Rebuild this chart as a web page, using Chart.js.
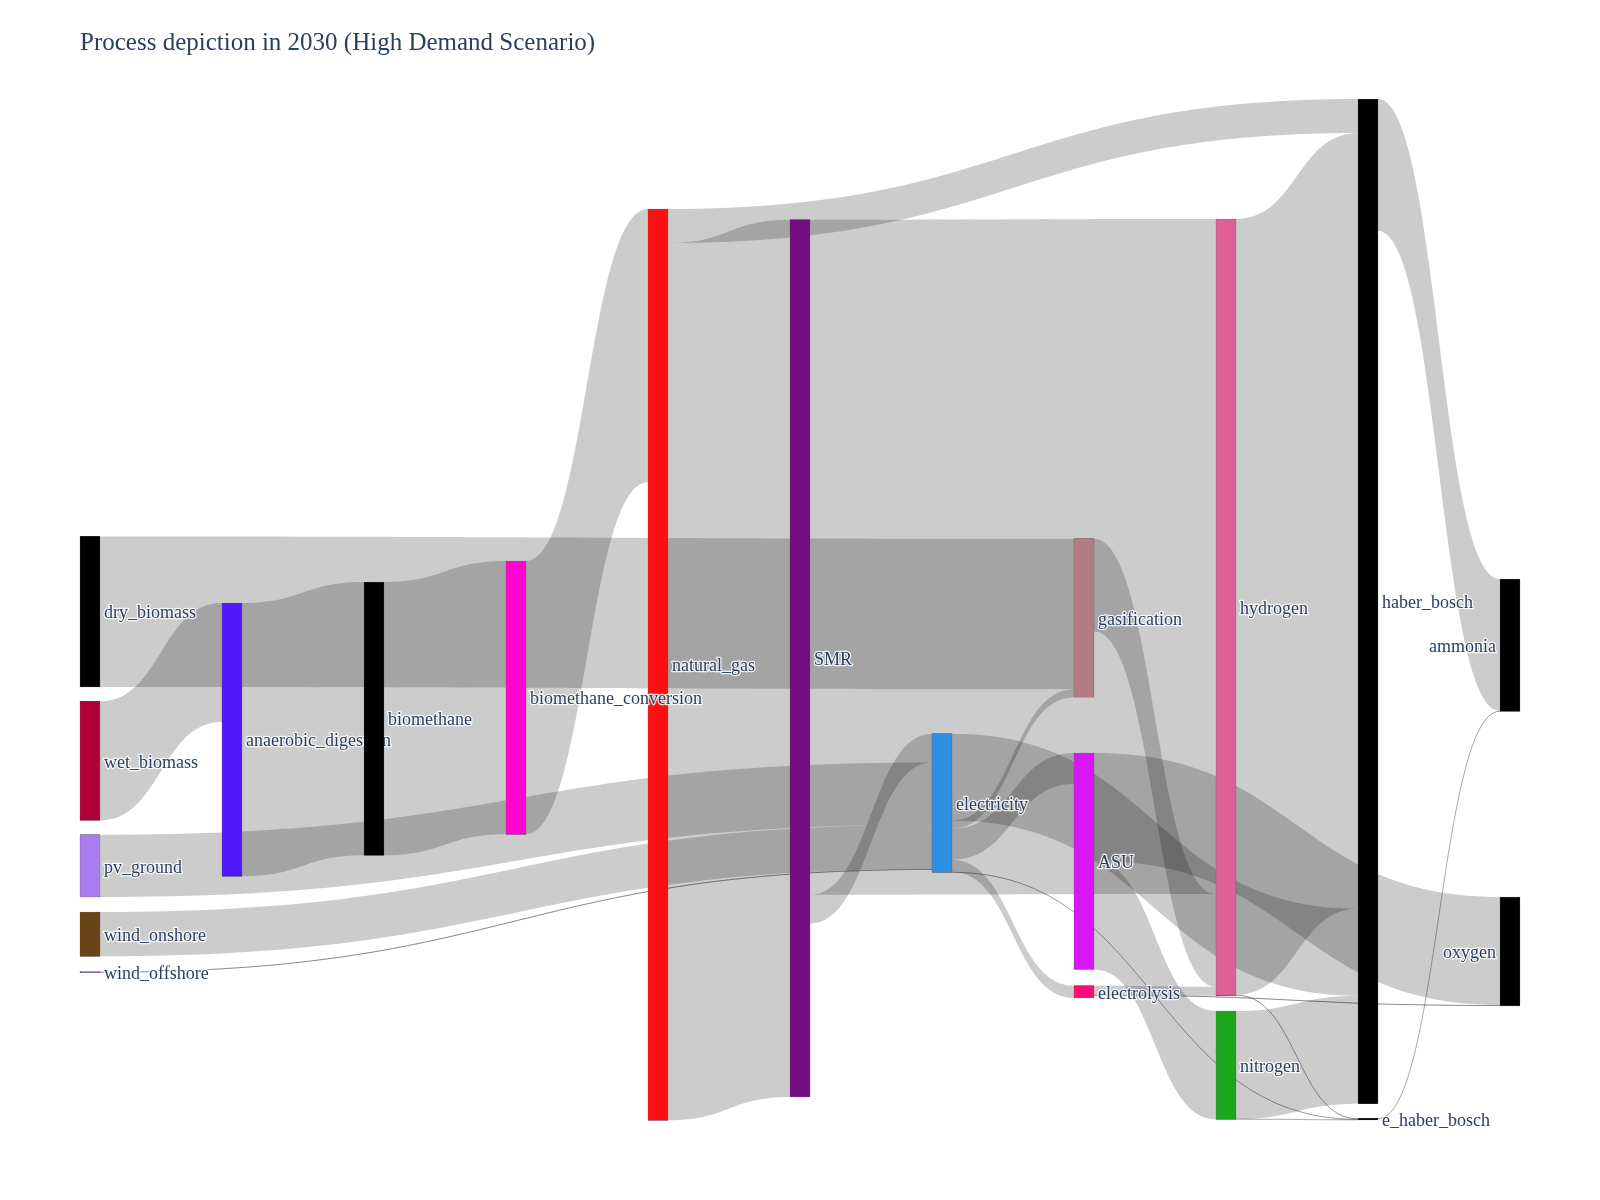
<!DOCTYPE html>
<html>
<head>
<meta charset="utf-8">
<script src="https://cdn.jsdelivr.net/npm/chart.js@4.4.1/dist/chart.umd.min.js"></script>
<style>
html,body{margin:0;padding:0;background:#ffffff;}
#wrap{width:1600px;height:1200px;}
</style>
</head>
<body>
<div id="wrap"><canvas id="chart" width="1600" height="1200"></canvas></div>
<script>
// ---------------- DATA ----------------
const titleText = 'Process depiction in 2030 (High Demand Scenario)';

const nodeLabels = [
  'dry_biomass', 'wet_biomass', 'pv_ground', 'wind_onshore', 'wind_offshore',
  'anaerobic_digestion', 'biomethane', 'natural_gas', 'biomethane_conversion', 'SMR',
  'electricity', 'gasification', 'ASU', 'electrolysis', 'hydrogen',
  'nitrogen', 'haber_bosch', 'e_haber_bosch', 'ammonia', 'oxygen'
];

const nodeColors = [
  '#000000', '#b00038', '#a77cf0', '#6a4416', '#8e2f6e',
  '#5119fa', '#000000', '#ff1010', '#ff05cf', '#730d81',
  '#2e8fe3', '#b27d85', '#d916f8', '#ff0a78', '#df5f99',
  '#1ea51e', '#000000', '#000000', '#000000', '#000000'
];

// vertical placement of each node (top edge, in flow units), like plotly's node.y
const nodeTops = [
  437.4, 602.4, 735.7, 813.0, 872.7,
  504.0, 483.0, 110.0, 462.0, 120.7,
  634.7, 439.7, 654.0, 886.7, 120.0,
  912.0, 0.0, 1019.4, 480.0, 798.0
];

const linkSources = [
  'dry_biomass', 'wet_biomass', 'anaerobic_digestion', 'biomethane', 'biomethane_conversion',
  'natural_gas', 'natural_gas', 'SMR', 'SMR', 'pv_ground',
  'wind_onshore', 'wind_offshore', 'electricity', 'electricity', 'electricity',
  'electricity', 'electricity', 'gasification', 'ASU', 'ASU',
  'electrolysis', 'electrolysis', 'hydrogen', 'hydrogen', 'nitrogen',
  'nitrogen', 'haber_bosch', 'e_haber_bosch'
];
const linkTargets = [
  'gasification', 'anaerobic_digestion', 'biomethane', 'biomethane_conversion', 'natural_gas',
  'haber_bosch', 'SMR', 'hydrogen', 'electricity', 'electricity',
  'electricity', 'electricity', 'haber_bosch', 'gasification', 'ASU',
  'electrolysis', 'e_haber_bosch', 'hydrogen', 'oxygen', 'nitrogen',
  'hydrogen', 'oxygen', 'haber_bosch', 'e_haber_bosch', 'haber_bosch',
  'e_haber_bosch', 'ammonia', 'ammonia'
];
const linkValues = [
  150.5, 119.0, 273.3, 273.3, 273.3,
  34.0, 877.3, 675.0, 28.7, 62.3,
  44.3, 1.0, 87.0, 8.0, 31.0,
  12.3, 0.5, 92.7, 108.0, 108.5,
  9.0, 1.0, 775.7, 0.8, 108.0,
  0.3, 132.0, 0.5
];

// ---------------- STYLE / LAYOUT CONSTANTS ----------------
const W = 1600, H = 1200;
const PAD = {left: 80, right: 100, top: 18, bottom: 80};
const NODE_W = 20;
const LABEL_OFFSET = 4;
const LABEL_DY = 2;
const TEXT_COLOR = '#2a3f5f';
const LINK_COLOR = 'rgba(0,0,0,0.2)';
const FONT_FAMILY = '"Liberation Serif", "Times New Roman", serif';
const LABEL_FONT = '18px ' + FONT_FAMILY;
const Y_MAX = 1021;

// ---------------- SANKEY STRUCTURE ----------------
const idx = {};
nodeLabels.forEach((n, i) => idx[n] = i);
const links = linkSources.map((s, i) => ({s: idx[s], t: idx[linkTargets[i]], v: linkValues[i]}));

// columns: longest path from sources, sinks justified to last column
const depth = nodeLabels.map(() => 0);
let changed = true;
while (changed) {
  changed = false;
  for (const L of links) {
    if (depth[L.t] < depth[L.s] + 1) { depth[L.t] = depth[L.s] + 1; changed = true; }
  }
}
const maxDepth = Math.max(...depth);
const hasOut = nodeLabels.map((_, i) => links.some(L => L.s === i));
const column = depth.map((d, i) => hasOut[i] ? d : maxDepth);

// node sizes = max(inflow, outflow)
const inSum = nodeLabels.map(() => 0), outSum = nodeLabels.map(() => 0);
links.forEach(L => { outSum[L.s] += L.v; inSum[L.t] += L.v; });
const nodeSize = nodeLabels.map((_, i) => Math.max(inSum[i], outSum[i]));

// link offsets at source/target, sorted by the other node's top
nodeLabels.forEach((_, i) => {
  const outs = links.filter(L => L.s === i).sort((a, b) => nodeTops[a.t] - nodeTops[b.t]);
  let y = nodeTops[i];
  outs.forEach(L => { L.sy = y; y += L.v; });
  const ins = links.filter(L => L.t === i).sort((a, b) => nodeTops[a.s] - nodeTops[b.s]);
  y = nodeTops[i];
  ins.forEach(L => { L.ty = y; y += L.v; });
});

// bar centre offset (in column units) so each node starts at its column position
const colPx = (W - PAD.left - PAD.right) / maxDepth;
const halfW = (NODE_W / 2) / colPx;
const nodeData = nodeLabels.map((_, i) => ({
  x: column[i] + halfW,
  y: [nodeTops[i], nodeTops[i] + nodeSize[i]]
}));

// ---------------- HELPERS ----------------
function labelGeom(chart, i) {
  const xs = chart.scales.x, ys = chart.scales.y;
  const left = xs.getPixelForValue(column[i]);
  const yc = (ys.getPixelForValue(nodeTops[i]) + ys.getPixelForValue(nodeTops[i] + nodeSize[i])) / 2 + LABEL_DY;
  const ctx = chart.ctx;
  ctx.font = LABEL_FONT;
  const w = ctx.measureText(nodeLabels[i]).width;
  if (column[i] === maxDepth) return {align: 'right', x: left - LABEL_OFFSET, y: yc, x0: left - LABEL_OFFSET - w, x1: left - LABEL_OFFSET};
  const tx = left + NODE_W + LABEL_OFFSET;
  return {align: 'left', x: tx, y: yc, x0: tx, x1: tx + w};
}

// a label lies beneath a later node (in node order) that it overlaps
function labelUnder(chart, i) {
  const g = labelGeom(chart, i);
  const xs = chart.scales.x, ys = chart.scales.y;
  for (let j = i + 1; j < nodeLabels.length; j++) {
    const nl = xs.getPixelForValue(column[j]), nr = nl + NODE_W;
    const nt = ys.getPixelForValue(nodeTops[j]), nb = ys.getPixelForValue(nodeTops[j] + nodeSize[j]);
    if (nr > g.x0 && nl < g.x1 && nb > g.y - 9 && nt < g.y + 9) return true;
  }
  return false;
}

function drawLabel(chart, i) {
  const ctx = chart.ctx;
  const g = labelGeom(chart, i);
  ctx.save();
  ctx.font = LABEL_FONT;
  ctx.textBaseline = 'middle';
  ctx.textAlign = g.align;
  ctx.lineJoin = 'round';
  ctx.strokeStyle = 'rgba(255,255,255,0.85)';
  ctx.lineWidth = 2.5;
  ctx.strokeText(nodeLabels[i], g.x, g.y);
  ctx.fillStyle = TEXT_COLOR;
  ctx.fillText(nodeLabels[i], g.x, g.y);
  ctx.restore();
}

// ---------------- PLUGINS ----------------
const sankeyLinks = {
  id: 'sankeyLinks',
  beforeDatasetsDraw(chart) {
    const {ctx} = chart;
    const xs = chart.scales.x, ys = chart.scales.y;
    ctx.save();
    for (const L of links) {
      const x0 = xs.getPixelForValue(column[L.s]) + NODE_W;
      const x1 = xs.getPixelForValue(column[L.t]);
      const sy0 = ys.getPixelForValue(L.sy), sy1 = ys.getPixelForValue(L.sy + L.v);
      const ty0 = ys.getPixelForValue(L.ty), ty1 = ys.getPixelForValue(L.ty + L.v);
      const xm = (x0 + x1) / 2;
      ctx.beginPath();
      ctx.moveTo(x0, sy0);
      ctx.bezierCurveTo(xm, sy0, xm, ty0, x1, ty0);
      ctx.lineTo(x1, ty1);
      ctx.bezierCurveTo(xm, ty1, xm, sy1, x0, sy1);
      ctx.closePath();
      ctx.fillStyle = LINK_COLOR;
      ctx.fill();
      if (Math.abs(sy1 - sy0) < 1.5) {
        const sm = (sy0 + sy1) / 2, tm = (ty0 + ty1) / 2;
        ctx.beginPath();
        ctx.moveTo(x0, sm);
        ctx.bezierCurveTo(xm, sm, xm, tm, x1, tm);
        ctx.strokeStyle = 'rgba(0,0,0,0.4)';
        ctx.lineWidth = 0.8;
        ctx.stroke();
      }
    }
    ctx.restore();
    nodeLabels.forEach((_, i) => { if (labelUnder(chart, i)) drawLabel(chart, i); });
  },
  afterDatasetsDraw(chart) {
    nodeLabels.forEach((_, i) => { if (!labelUnder(chart, i)) drawLabel(chart, i); });
  }
};

// ---------------- CHART ----------------
new Chart(document.getElementById('chart'), {
  type: 'bar',
  data: {
    datasets: [{
      label: 'nodes',
      data: nodeData,
      backgroundColor: nodeColors,
      borderColor: '#444444',
      borderWidth: 0.5,
      borderSkipped: false,
      barThickness: NODE_W,
      grouped: false,
      clip: false
    }]
  },
  options: {
    responsive: false,
    animation: false,
    devicePixelRatio: 1,
    events: [],
    layout: {padding: PAD},
    scales: {
      x: {type: 'linear', min: 0, max: maxDepth, display: false, offset: false},
      y: {type: 'linear', min: 0, max: Y_MAX, reverse: true, display: false}
    },
    plugins: {
      legend: {display: false},
      tooltip: {enabled: false},
      title: {
        display: true,
        text: titleText,
        align: 'start',
        color: TEXT_COLOR,
        font: {family: FONT_FAMILY, size: 25, weight: 'normal', lineHeight: 1.2},
        padding: {top: 10, bottom: 41}
      }
    }
  },
  plugins: [sankeyLinks]
});
</script>
</body>
</html>
